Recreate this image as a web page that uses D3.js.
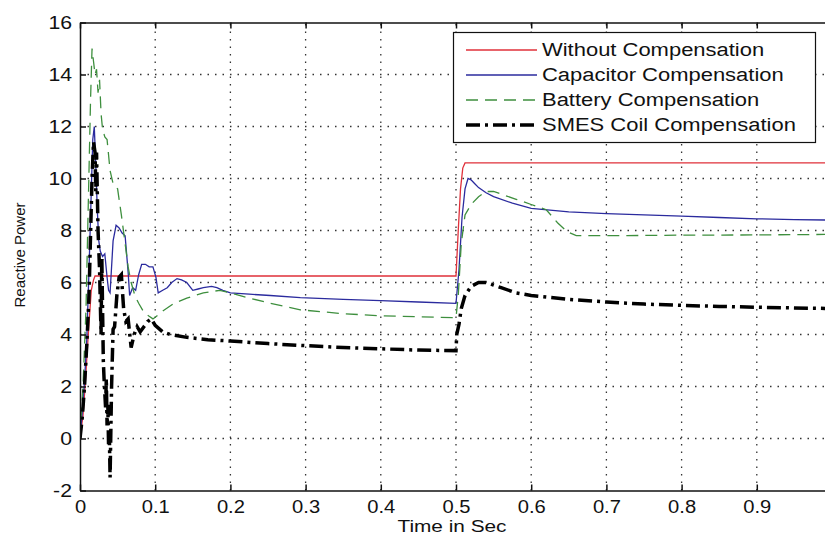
<!DOCTYPE html>
<html>
<head>
<meta charset="utf-8">
<script src="https://cdn.jsdelivr.net/npm/d3@7"></script>
<style>
  body { margin: 0; background: #fff; }
  text { font-family: "Liberation Sans", Arial, sans-serif; fill: #111; }
  .grid line { stroke: #333; stroke-width: 1.3; stroke-dasharray: 1.5,6; }
</style>
</head>
<body>
<div id="graphic"></div>
<script>
// ---- data ----
var xTicks = [0, 0.1, 0.2, 0.3, 0.4, 0.5, 0.6, 0.7, 0.8, 0.9];
var xTickLabels = ["0", "0.1", "0.2", "0.3", "0.4", "0.5", "0.6", "0.7", "0.8", "0.9"];
var yTicks = [-2, 0, 2, 4, 6, 8, 10, 12, 14, 16];
var yTickLabels = ["-2", "0", "2", "4", "6", "8", "10", "12", "14", "16"];

var seriesNames = ["Without Compensation", "Capacitor Compensation", "Battery Compensation", "SMES Coil Compensation"];

var tRed = [0, 0.004, 0.007, 0.011, 0.015, 0.018, 0.02, 0.5, 0.503, 0.506, 0.509, 0.512, 1.0];
var red  = [0, 0.9, 2.1, 4.0, 5.7, 6.1, 6.25, 6.25, 8.0, 9.6, 10.4, 10.6, 10.6];

var tBlue = [0, 0.003, 0.006, 0.009, 0.012, 0.015, 0.017, 0.019, 0.021, 0.023, 0.025, 0.027, 0.03, 0.033,
  0.036, 0.038, 0.04, 0.044, 0.048, 0.052, 0.056, 0.06, 0.064, 0.066, 0.07, 0.074, 0.078, 0.082, 0.087,
  0.092, 0.097, 0.101, 0.104, 0.11, 0.116, 0.122, 0.129, 0.135, 0.142, 0.15, 0.157, 0.164, 0.175, 0.182,
  0.19, 0.2, 0.225, 0.253, 0.293, 0.35, 0.4, 0.45, 0.5, 0.504, 0.508, 0.512, 0.516, 0.52, 0.525, 0.53,
  0.54, 0.55, 0.575, 0.6, 0.65, 0.7, 0.75, 0.8, 0.85, 0.9, 0.95, 1.0];
var blue = [0, 1.0, 2.2, 3.8, 6.5, 9.5, 11.5, 12.0, 10.5, 8.8, 7.6, 7.2, 7.0, 7.1,
  6.2, 5.7, 5.6, 7.6, 8.2, 8.1, 7.9, 7.8, 6.4, 5.5, 5.8, 5.7, 6.3, 6.7, 6.7,
  6.6, 6.6, 6.2, 5.6, 5.7, 5.8, 6.0, 6.15, 6.1, 6.0, 5.7, 5.75, 5.8, 5.85, 5.8,
  5.7, 5.6, 5.55, 5.5, 5.42, 5.35, 5.3, 5.25, 5.2, 6.5, 8.5, 9.6, 10.0, 9.95, 9.8, 9.65,
  9.45, 9.3, 9.05, 8.85, 8.72, 8.65, 8.6, 8.55, 8.5, 8.45, 8.42, 8.4];

var tGreen = [0, 0.004, 0.008, 0.011, 0.014, 0.016, 0.018, 0.02, 0.022, 0.024, 0.026, 0.028, 0.03, 0.033,
  0.036, 0.04, 0.044, 0.05, 0.055, 0.06, 0.064, 0.068, 0.073, 0.078, 0.085, 0.092, 0.097, 0.104, 0.11,
  0.125, 0.142, 0.164, 0.186, 0.2, 0.225, 0.253, 0.293, 0.35, 0.4, 0.45, 0.5, 0.503, 0.507, 0.512, 0.52,
  0.53, 0.54, 0.55, 0.56, 0.58, 0.6, 0.62, 0.635, 0.648, 0.66, 0.7, 0.8, 0.9, 1.0];
var green = [0, 2, 5, 9, 13, 15.0, 14.5, 14.0, 14.2, 13.3, 13.8, 12.5, 11.9, 11.6,
  11.5, 10.3, 9.8, 9.6, 8.6, 7.5, 6.6, 6.0, 5.5, 5.2, 4.85, 4.7, 4.6, 4.75, 4.9,
  5.2, 5.4, 5.6, 5.7, 5.6, 5.4, 5.2, 4.95, 4.8, 4.72, 4.68, 4.65, 5.5, 7.5, 8.6, 9.0,
  9.3, 9.5, 9.5, 9.4, 9.2, 9.0, 8.8, 8.3, 7.95, 7.8, 7.8, 7.82, 7.83, 7.85];

var tSmes = [0, 0.003, 0.006, 0.009, 0.012, 0.014, 0.016, 0.018, 0.02, 0.021, 0.022, 0.024, 0.026, 0.028,
  0.029, 0.031, 0.032, 0.034, 0.035, 0.036, 0.037, 0.038, 0.039, 0.04, 0.042, 0.044, 0.046, 0.049, 0.052,
  0.055, 0.058, 0.061, 0.064, 0.068, 0.072, 0.076, 0.08, 0.085, 0.09, 0.095, 0.1, 0.11, 0.12, 0.14, 0.17,
  0.2, 0.25, 0.3, 0.35, 0.4, 0.45, 0.5, 0.501, 0.504, 0.507, 0.512, 0.52, 0.53, 0.54, 0.55, 0.56, 0.58,
  0.6, 0.65, 0.7, 0.75, 0.8, 0.85, 0.9, 0.95, 1.0];
var smes = [0, 0.8, 2.0, 3.6, 5.5, 7.8, 10.0, 11.4, 11.0, 9.5, 11.0, 8.0, 6.5, 4.0,
  7.0, 3.0, 2.3, 1.2, 2.3, 0.5, 1.3, -0.3, 0.2, -1.5, 2.0, 4.2, 4.3, 5.5, 6.2,
  6.3, 5.0, 4.5, 4.6, 3.5, 4.0, 4.3, 4.1, 4.3, 4.5, 4.6, 4.35, 4.1, 4.0, 3.9, 3.8,
  3.75, 3.65, 3.57, 3.5, 3.45, 3.4, 3.38, 4.0, 4.4, 5.0, 5.5, 5.85, 6.0, 6.0, 5.9, 5.8, 5.6,
  5.5, 5.35, 5.25, 5.17, 5.12, 5.08, 5.05, 5.02, 5.0];

// ---- layout ----
var width = 825,
    height = 539;

var x = d3.scaleLinear().domain([0, 1]).range([80, 832]);
var y = d3.scaleLinear().domain([-2, 16]).range([490.5, 22.5]);

var svg = d3.select("#graphic")
    .append("svg")
    .attr("width", width)
    .attr("height", height);

// stretch text horizontally like the (resized) original
function stretch(sel, k) {
  sel.each(function() {
    var len = this.getComputedTextLength();
    d3.select(this).attr("textLength", len * k).attr("lengthAdjust", "spacingAndGlyphs");
  });
}

svg.append("defs").append("clipPath")
    .attr("id", "plotclip")
  .append("rect")
    .attr("x", x.range()[0])
    .attr("y", y.range()[1])
    .attr("width", x.range()[1] - x.range()[0])
    .attr("height", y.range()[0] - y.range()[1]);

// grid
var grid = svg.append("g").attr("class", "grid");
grid.selectAll(".vx")
    .data(xTicks.slice(1))
    .enter().append("line")
    .attr("x1", d => x(d)).attr("x2", d => x(d))
    .attr("y1", y.range()[0]).attr("y2", y.range()[1]);
grid.selectAll(".hy")
    .data(yTicks.slice(1, -1))
    .enter().append("line")
    .attr("x1", x.range()[0]).attr("x2", x.range()[1])
    .attr("y1", d => y(d)).attr("y2", d => y(d));

// series
var series = [
  {name: seriesNames[0], t: tRed, v: red, color: "#e0303a", w: 1.3, dash: null},
  {name: seriesNames[1], t: tBlue, v: blue, color: "#2b2b9e", w: 1.3, dash: null},
  {name: seriesNames[2], t: tGreen, v: green, color: "#3e8f3e", w: 1.3, dash: "12,7"},
  {name: seriesNames[3], t: tSmes, v: smes, color: "#000", w: 3.5, dash: "14,5,3,5"}
];

var line = d3.line()
    .x(d => x(d[0]))
    .y(d => y(d[1]));

var plot = svg.append("g").attr("clip-path", "url(#plotclip)");
plot.selectAll("path")
    .data(series)
    .enter().append("path")
    .attr("fill", "none")
    .attr("stroke", d => d.color)
    .attr("stroke-width", d => d.w)
    .attr("stroke-dasharray", d => d.dash)
    .attr("d", d => line(d.t.map((t, i) => [t, d.v[i]])));

// axes
var axisBottom = svg.append("g")
    .attr("transform", "translate(0," + y.range()[0] + ")")
    .call(d3.axisBottom(x).tickValues(xTicks).tickSizeInner(-6).tickSizeOuter(0)
      .tickFormat((d, i) => xTickLabels[i]));
axisBottom.selectAll("text")
    .attr("y", 10)
    .attr("font-size", 18)
    .attr("font-family", "Liberation Sans, Arial, sans-serif")
    .attr("fill", "#222")
    .call(stretch, 1.12);

var axisTop = svg.append("g")
    .attr("transform", "translate(0," + y.range()[1] + ")")
    .call(d3.axisTop(x).tickValues(xTicks).tickSizeInner(-6).tickSizeOuter(0).tickFormat(""));

var axisLeft = svg.append("g")
    .attr("transform", "translate(" + x.range()[0] + ",0)")
    .call(d3.axisLeft(y).tickValues(yTicks).tickSizeInner(-6).tickSizeOuter(0)
      .tickFormat((d, i) => yTickLabels[i]));
axisLeft.selectAll("text")
    .attr("x", -8)
    .attr("font-size", 18)
    .attr("font-family", "Liberation Sans, Arial, sans-serif")
    .attr("fill", "#222")
    .call(stretch, 1.18);

svg.selectAll(".domain, .tick line")
    .attr("stroke", "#111")
    .attr("stroke-width", 1.5);

// axis titles
svg.append("text")
    .attr("x", 452)
    .attr("y", 532)
    .attr("text-anchor", "middle")
    .attr("font-size", 16)
    .text("Time in Sec")
    .call(stretch, 1.3);

svg.append("text")
    .attr("transform", "translate(25,255) rotate(-90)")
    .attr("text-anchor", "middle")
    .attr("font-size", 15)
    .text("Reactive Power");

// legend
var legend = svg.append("g").attr("class", "legend");
legend.append("rect")
    .attr("x", 453.5).attr("y", 32.5)
    .attr("width", 362).attr("height", 110)
    .attr("fill", "#fff")
    .attr("stroke", "#111")
    .attr("stroke-width", 1.2);

var item = legend.selectAll(".item")
    .data(series)
    .enter().append("g")
    .attr("transform", (d, i) => "translate(0," + (50 + i * 25) + ")");
item.append("line")
    .attr("x1", 466).attr("x2", 537)
    .attr("stroke", d => d.color)
    .attr("stroke-width", d => d.w)
    .attr("stroke-dasharray", d => d.dash);
item.append("text")
    .attr("x", 542)
    .attr("dy", "0.36em")
    .attr("font-size", 18)
    .text(d => d.name)
    .call(stretch, 1.22);
</script>
</body>
</html>
